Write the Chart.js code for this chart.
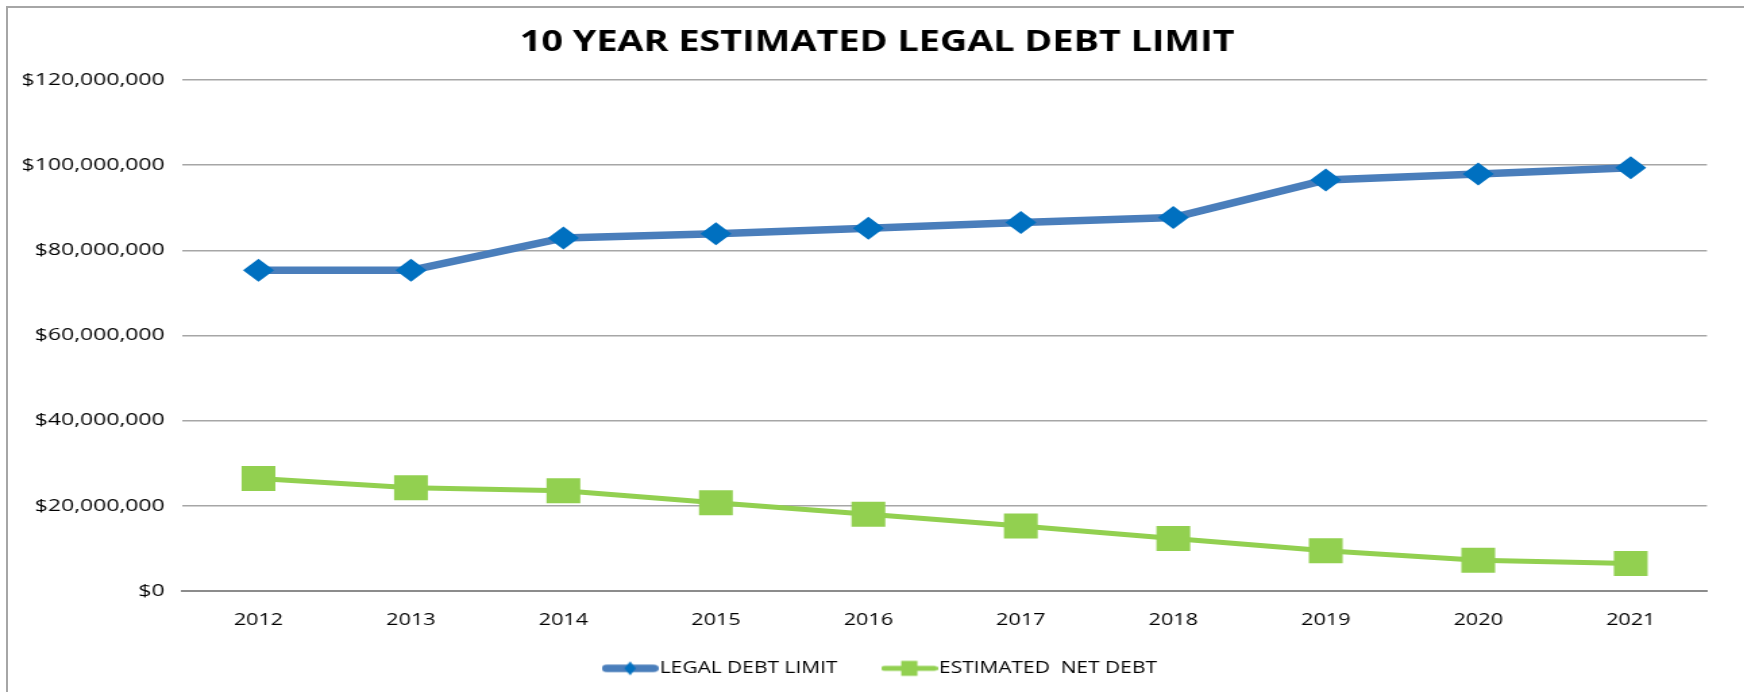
<!DOCTYPE html>
<html><head><meta charset="utf-8">
<script src="https://cdn.jsdelivr.net/npm/chart.js@4/dist/chart.umd.min.js"></script>
<style>
html,body{margin:0;padding:0;background:#fff;overflow:hidden;width:1744px;height:692px;}
#frame{position:absolute;left:6px;top:6px;width:1800px;height:800px;border-left:2px solid #a6a6a6;border-top:2px solid #a6a6a6;}
#wrap{position:absolute;left:0;top:0;width:1292px;height:692px;transform:scaleX(1.35);transform-origin:0 0;}
canvas{display:block}
</style></head><body>
<div id="frame"></div>
<div id="wrap"><canvas id="c" width="1292" height="692"></canvas></div>
<script>
// ---- data ----
const years = ['2012','2013','2014','2015','2016','2017','2018','2019','2020','2021'];
const legalDebtLimit = [75300000, 75300000, 82900000, 83900000, 85200000, 86500000, 87700000, 96500000, 97900000, 99400000];
const estimatedNetDebt = [26400000, 24200000, 23500000, 20700000, 18000000, 15200000, 12300000, 9400000, 7200000, 6400000];
const seriesNames = ['LEGAL DEBT LIMIT', 'ESTIMATED  NET DEBT'];
const chartTitle = '10 YEAR ESTIMATED LEGAL DEBT LIMIT';
const yMin = 0, yMax = 120000000, yStep = 20000000;

// ---- styles ----
const BLUE_LINE = '#4A7EBB', BLUE_MARK = '#0070C0', GREEN = '#92D050';

function makeIcon(lineColor, lineW, markColor, shape) {
  const c = document.createElement('canvas');
  c.width = 42; c.height = 18;
  const g = c.getContext('2d');
  g.strokeStyle = lineColor; g.lineWidth = lineW; g.lineCap = 'round';
  g.beginPath(); g.moveTo(lineW/2, 9); g.lineTo(42 - lineW/2, 9); g.stroke();
  g.fillStyle = markColor;
  g.beginPath();
  if (shape === 'diamond') {
    g.moveTo(21 - 4.2, 9); g.lineTo(21, 2); g.lineTo(21 + 4.2, 9); g.lineTo(21, 16);
  } else {
    g.rect(21 - 6, 9 - 7.5, 12, 15);
  }
  g.closePath(); g.fill();
  return c;
}
const icons = [makeIcon(BLUE_LINE, 7.5, BLUE_MARK, 'diamond'), makeIcon(GREEN, 5, GREEN, 'square')];

const shiftPlugin = {
  id: 'shiftBoxes',
  afterLayout(chart) {
    const L = chart.legend;
    if (L) { L.left += 21; L.right += 21; L.top -= 29.2; L.bottom -= 29.2; }
    const T = chart.titleBlock;
    if (T) { T.left += 16; T.right += 16; }
  }
};

new Chart(document.getElementById('c'), {
  type: 'line',
  data: {
    labels: years,
    datasets: [
      {
        label: seriesNames[0], data: legalDebtLimit,
        borderColor: BLUE_LINE, borderWidth: 7.5,
        pointStyle: 'rectRot', pointRadius: 11.5, pointBackgroundColor: BLUE_MARK,
        pointBorderColor: BLUE_MARK, pointBorderWidth: 0, tension: 0
      },
      {
        label: seriesNames[1], data: estimatedNetDebt,
        borderColor: GREEN, borderWidth: 5,
        pointStyle: 'rect', pointRadius: 17.7, pointBackgroundColor: GREEN,
        pointBorderColor: GREEN, pointBorderWidth: 0, tension: 0
      }
    ]
  },
  options: {
    responsive: false, animation: false,
    layout: { padding: { left: 3, right: 27.6, top: 0, bottom: -23.3 } },
    plugins: {
      tooltip: { enabled: false },
      title: {
        display: true, text: chartTitle, color: '#000',
        font: { family: 'Open Sans', weight: 'bold', size: 28, lineHeight: 1.2 },
        padding: { top: 26.5, bottom: 19.9 }
      },
      legend: {
        position: 'bottom',
        labels: {
          usePointStyle: true, pointStyleWidth: 28.5, padding: 39,
          color: '#000', font: { family: 'Open Sans', size: 15.5 },
          generateLabels(chart) {
            return chart.data.datasets.map((ds, i) => ({
              text: ds.label, pointStyle: icons[i], fillStyle: 'transparent',
              strokeStyle: 'transparent', lineWidth: 0, hidden: false, datasetIndex: i, fontColor: '#000'
            }));
          }
        }
      }
    },
    scales: {
      x: {
        offset: true,
        grid: { display: false, drawTicks: false },
        border: { display: true, color: '#8c8c8c', width: 2 },
        ticks: { color: '#000', padding: 20.4, font: { family: 'Open Sans', size: 16 } }
      },
      y: {
        min: yMin, max: yMax,
        grid: { color: '#a6a6a6', lineWidth: 1.5, drawTicks: false },
        border: { display: false },
        ticks: {
          stepSize: yStep, color: '#000', padding: 13,
          font: { family: 'Open Sans', size: 17 },
          callback: v => '$' + Number(v).toLocaleString('en-US')
        }
      }
    }
  },
  plugins: [shiftPlugin]
});
</script>
</body></html>
